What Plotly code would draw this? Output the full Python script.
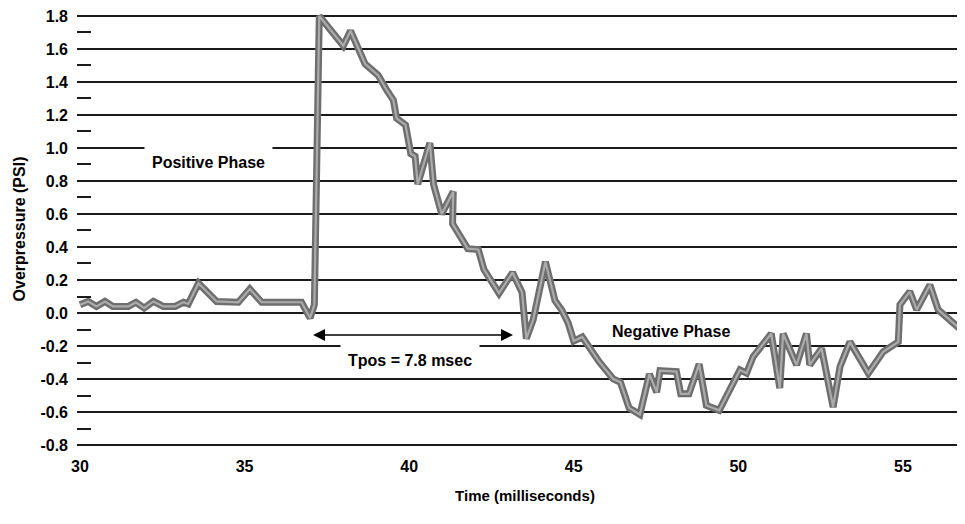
import plotly.graph_objects as go

# Time (ms) and overpressure (PSI)
time_ms = [30.0, 30.25, 30.5, 30.76, 31.0, 31.47, 31.7, 31.95, 32.23, 32.53, 32.89,
           33.14, 33.29, 33.6, 34.15, 34.81, 35.16, 35.52, 36.73, 36.99, 37.12,
           37.27, 38.0, 38.22, 38.66, 39.06, 39.32, 39.52, 39.62, 39.89, 40.05,
           40.18, 40.26, 40.63, 40.74, 40.99, 41.34, 41.32, 41.78, 42.1, 42.27,
           42.73, 43.14, 43.43, 43.56, 43.77, 44.14, 44.43, 44.63, 44.83, 45.0,
           45.26, 45.77, 46.2, 46.42, 46.68, 47.01, 47.3, 47.52, 47.62, 48.12,
           48.25, 48.5, 48.81, 49.03, 49.42, 50.05, 50.25, 50.45, 51.0, 51.26,
           51.36, 51.77, 52.07, 52.17, 52.53, 52.88, 53.09, 53.39, 53.95, 54.4,
           54.86, 54.91, 55.21, 55.42, 55.82, 56.07, 56.9]
pressure_psi = [0.05, 0.07, 0.04, 0.07, 0.04, 0.04, 0.065, 0.03, 0.07, 0.04, 0.04,
                0.065, 0.055, 0.18, 0.07, 0.065, 0.145, 0.065, 0.065, -0.03, 0.05,
                1.80, 1.62, 1.71, 1.51, 1.44, 1.35, 1.29, 1.18, 1.14, 0.965,
                0.95, 0.78, 1.03, 0.78, 0.60, 0.735, 0.54, 0.39, 0.385, 0.265,
                0.12, 0.245, 0.125, -0.155, -0.04, 0.31, 0.075, 0.02, -0.06, -0.17,
                -0.145, -0.295, -0.40, -0.42, -0.575, -0.615, -0.37, -0.48, -0.35, -0.355,
                -0.49, -0.49, -0.31, -0.56, -0.59, -0.345, -0.365, -0.265, -0.125, -0.455,
                -0.125, -0.315, -0.125, -0.315, -0.215, -0.57, -0.325, -0.175, -0.365, -0.235,
                -0.175, 0.05, 0.13, 0.02, 0.17, 0.02, -0.125]

x_ticks = [30, 35, 40, 45, 50, 55]
y_ticks = [-0.8, -0.6, -0.4, -0.2, 0.0, 0.2, 0.4, 0.6, 0.8, 1.0, 1.2, 1.4, 1.6, 1.8]
y_tick_text = [f"{v:.1f}" for v in y_ticks]

tpos_start, tpos_end, tpos_level = 37.08, 43.2, -0.133

FONT = "Liberation Sans, Arial, sans-serif"
bold = dict(family=FONT, size=16, color="black", weight="bold")

fig = go.Figure()
fig.add_trace(go.Scatter(x=time_ms, y=pressure_psi, mode="lines",
                         line=dict(color="#6e6e6e", width=7), hoverinfo="skip",
                         showlegend=False))
fig.add_trace(go.Scatter(x=time_ms, y=pressure_psi, mode="lines",
                         line=dict(color="#ababab", width=2.2), showlegend=False))

# double-headed arrow for Tpos
fig.add_annotation(x=tpos_start, y=tpos_level, ax=tpos_end, ay=tpos_level,
                   xref="x", yref="y", axref="x", ayref="y", text="",
                   showarrow=True, arrowhead=2, arrowside="end+start",
                   arrowsize=1.6, arrowwidth=1.5, arrowcolor="black")

fig.add_annotation(x=40.02, y=-0.29, xref="x", yref="y", text="Tpos = 7.8 msec",
                   showarrow=False, font=bold, bgcolor="white", borderpad=7)
fig.add_annotation(x=33.9, y=0.91, xref="x", yref="y", text="Positive Phase",
                   showarrow=False, font=bold, bgcolor="white", borderpad=7)
fig.add_annotation(x=47.97, y=-0.11, xref="x", yref="y", text="Negative Phase",
                   showarrow=False, font=bold)

fig.update_layout(
    width=965, height=524,
    margin=dict(l=69, r=0, t=3, b=85, autoexpand=False),
    paper_bgcolor="white", plot_bgcolor="white",
    font=bold,
    xaxis=dict(range=[29.909, 57.13], tickvals=x_ticks, ticktext=[str(v) for v in x_ticks],
               showgrid=False, zeroline=False, showline=False, ticks="",
               tickfont=bold, ticklabelstandoff=8, automargin=False,
               ticklabeloverflow="allow",
               title=dict(text="Time (milliseconds)", font=dict(family=FONT, size=15, color="black", weight="bold"), standoff=16)),
    yaxis=dict(range=[-0.812, 1.83], tickvals=y_ticks, ticktext=y_tick_text,
               showgrid=True, gridcolor="#1a1a1a", gridwidth=1.5,
               zeroline=False, showline=False, ticks="",
               tickfont=bold, ticklabelstandoff=8, automargin=False,
               ticklabeloverflow="allow",
               minor=dict(dtick=0.1, tick0=0, ticks="inside", ticklen=14,
                          tickwidth=1.5, tickcolor="#1a1a1a", showgrid=False),
               title=dict(text="Overpressure (PSI)", font=bold, standoff=10)),
)

fig.write_html("out.html")
